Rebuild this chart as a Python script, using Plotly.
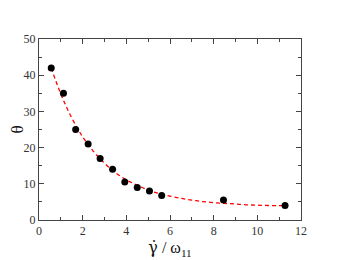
import plotly.graph_objects as go

# measured points
x_pts = [0.56, 1.12, 1.68, 2.25, 2.80, 3.37, 3.93, 4.50, 5.06, 5.62, 8.45, 11.27]
y_pts = [42.0, 35.0, 25.0, 21.0, 17.0, 14.0, 10.5, 9.0, 8.0, 6.8, 5.5, 4.0]

# dashed fit curve
x_fit = [0.56, 1.0, 1.5, 2.0, 2.5, 3.0, 3.5, 4.0, 4.5, 5.0, 5.5, 6.0, 6.5, 7.0,
         7.5, 8.0, 8.5, 9.0, 9.5, 10.0, 10.5, 11.0, 11.3]
y_fit = [42.0, 34.8, 28.2, 23.0, 18.9, 15.7, 13.1, 11.1, 9.6, 8.3, 7.3, 6.6, 6.0,
         5.5, 5.1, 4.8, 4.6, 4.4, 4.2, 4.1, 4.0, 3.97, 3.93]

x_ticks = [0, 2, 4, 6, 8, 10, 12]
y_ticks = [0, 10, 20, 30, 40, 50]

fig = go.Figure()
fig.add_trace(go.Scatter(x=x_fit, y=y_fit, mode="lines",
                         line=dict(color="#ff0000", width=1.3, dash="4px,3px", shape="spline"),
                         showlegend=False, hoverinfo="skip"))
fig.add_trace(go.Scatter(x=x_pts, y=y_pts, mode="markers",
                         marker=dict(color="black", size=7),
                         showlegend=False))

axis_common = dict(
    showgrid=False, zeroline=False, showline=True, linecolor="#444444", linewidth=1,
    mirror="allticks", ticks="inside", ticklen=5, tickcolor="#444444", tickwidth=1,
    tickfont=dict(family="Liberation Serif", size=12, color="#333333"),
    automargin=False,
)

x_title = '<span style="font-family:DejaVu Serif">γ̇</span> / ω<sub>11</sub>'

# the page body adds an 8px offset, so the figure is sized to fit the window
fig.update_layout(
    width=331, height=252,
    margin=dict(l=31, r=38, t=31, b=40),
    paper_bgcolor="white", plot_bgcolor="white",
    xaxis=dict(range=[0, 12], tickvals=x_ticks, ticktext=[str(v) for v in x_ticks],
               minor=dict(dtick=1, ticks="inside", ticklen=3, tickcolor="#444444", showgrid=False),
               title=dict(text=x_title, standoff=2,
                          font=dict(family="Liberation Serif", size=16, color="#111111")),
               **axis_common),
    yaxis=dict(range=[0, 50], tickvals=y_ticks, ticktext=[str(v) for v in y_ticks],
               minor=dict(dtick=5, ticks="inside", ticklen=3, tickcolor="#444444", showgrid=False),
               title=dict(text="θ", standoff=4,
                          font=dict(family="Liberation Serif", size=17, color="#111111")),
               **axis_common),
)

fig.write_html("out.html")
